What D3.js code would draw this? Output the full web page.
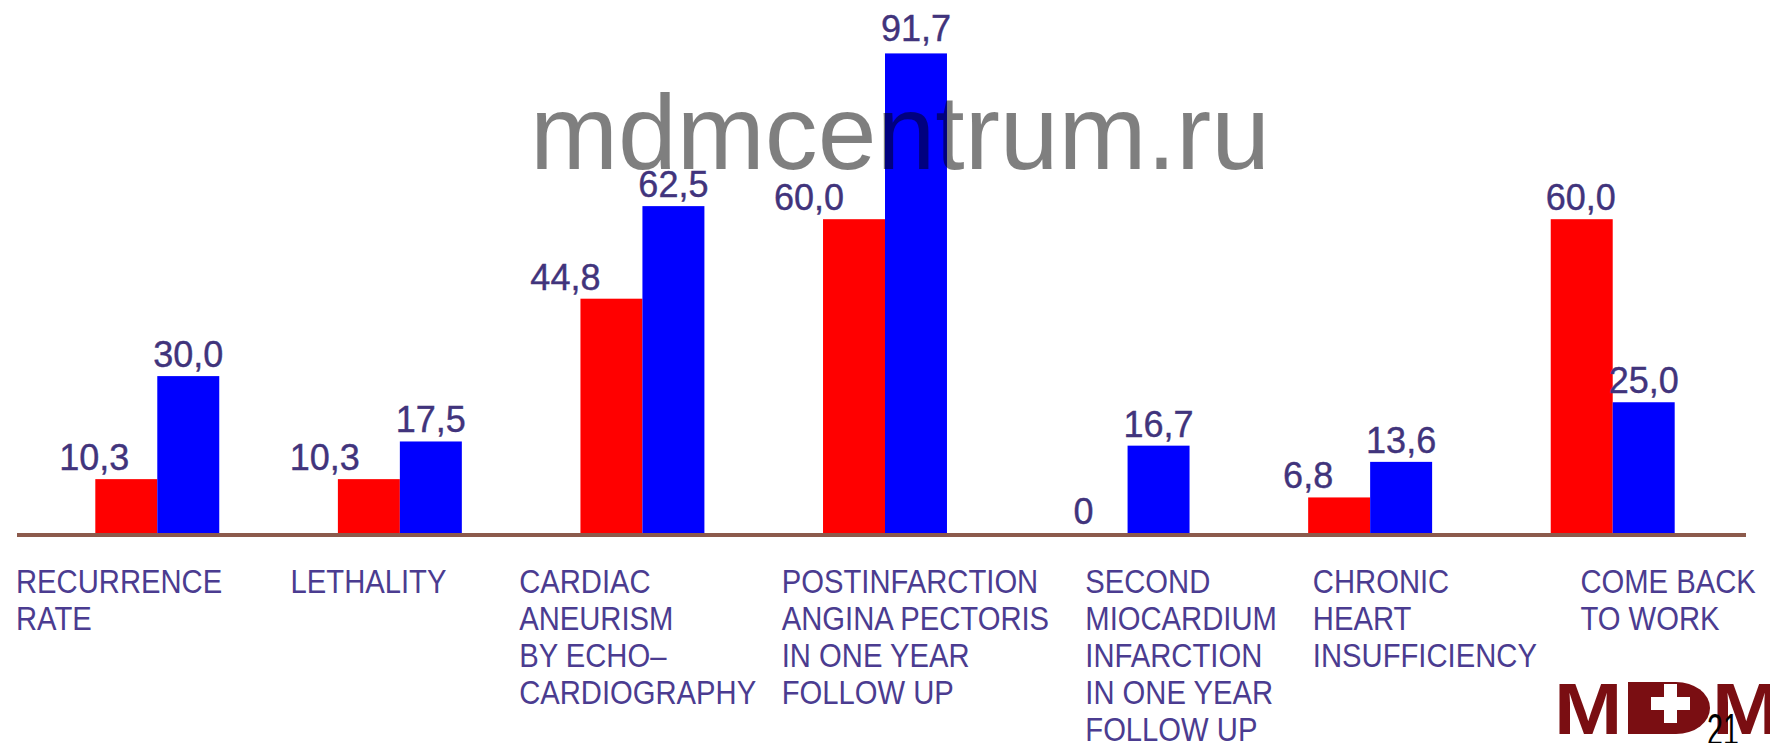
<!DOCTYPE html>
<html>
<head>
<meta charset="utf-8">
<script src="https://cdn.jsdelivr.net/npm/d3@7"></script>
<style>
  html, body { margin: 0; padding: 0; background: #fff; overflow: hidden; }
  svg { display: block; }
</style>
</head>
<body>
<div id="chart"></div>
<script>
// chart values
const categories = [
  ['RECURRENCE', 'RATE'],
  ['LETHALITY'],
  ['CARDIAC', 'ANEURISM', 'BY ECHO–', 'CARDIOGRAPHY'],
  ['POSTINFARCTION', 'ANGINA PECTORIS', 'IN ONE YEAR', 'FOLLOW UP'],
  ['SECOND', 'MIOCARDIUM', 'INFARCTION', 'IN ONE YEAR', 'FOLLOW UP'],
  ['CHRONIC', 'HEART', 'INSUFFICIENCY'],
  ['COME BACK', 'TO WORK']
]
const redValues = [10.3, 10.3, 44.8, 60.0, 0, 6.8, 60.0]
const blueValues = [30.0, 17.5, 62.5, 91.7, 16.7, 13.6, 25.0]
const series = ['red', 'blue']

// layout tweaks (label placement as on the slide)
const redLabelDx = [3, -9, -11, -10, -3, -6, 34]
const catLabelDx = [-20, 12, -2, 18, 79, 64, 89]

const drawChart = () => {
  var width = 1770, height = 743
  var baseY = 533

  var svg = d3.select('#chart').
    append('svg').
    attr('width', width).
    attr('height', height)

  var x = d3.scaleBand().
    domain(d3.range(categories.length)).
    range([36, 1734]).
    paddingInner(0.489).
    paddingOuter(0.2445)

  var xSub = d3.scaleBand().
    domain(series).
    range([0, x.bandwidth()])

  var y = d3.scaleLinear().
    domain([0, 100]).
    range([baseY, 10])

  var color = d3.scaleOrdinal().domain(series).range(['#ff0000', '#0000ff'])

  var fmt = d3.formatLocale({ decimal: ',', thousands: ' ', grouping: [3], currency: ['', ''] }).format('.1f')
  var label = v => v === 0 ? '0' : fmt(v)

  var rows = categories.map((c, i) => ({ i: i, red: redValues[i], blue: blueValues[i] }))

  var group = svg.selectAll('g.grp').
    data(rows).
    enter().
    append('g').
    attr('class', 'grp').
    attr('transform', d => 'translate(' + x(d.i) + ',0)')

  group.selectAll('rect').
    data(d => series.map(s => ({ s: s, v: d[s] }))).
    enter().
    append('rect').
    attr('x', d => xSub(d.s)).
    attr('width', xSub.bandwidth()).
    attr('y', d => y(d.v)).
    attr('height', d => baseY - y(d.v)).
    attr('fill', d => color(d.s))

  // baseline
  svg.append('line').
    attr('x1', 17).attr('x2', 1746).
    attr('y1', baseY + 2).attr('y2', baseY + 2).
    attr('stroke', '#8c5a4c').
    attr('stroke-width', 4)

  // value labels
  group.append('text').
    attr('x', d => xSub('red') + xSub.bandwidth() / 2 + redLabelDx[d.i]).
    attr('y', d => y(d.red) - 9).
    attr('text-anchor', 'end').
    text(d => label(d.red))

  group.append('text').
    attr('x', xSub('blue') + xSub.bandwidth() / 2).
    attr('y', d => y(d.blue) - (d.i === 3 ? 12 : 9)).
    attr('text-anchor', 'middle').
    text(d => label(d.blue))

  group.selectAll('text').
    attr('font-family', 'Liberation Sans, Arial, sans-serif').
    attr('font-size', 36).
    attr('fill', '#41347c').
    attr('stroke', '#41347c').
    attr('stroke-width', 0.4)

  // category labels, narrow lettering
  var cat = svg.selectAll('g.cat').
    data(rows).
    enter().
    append('g').
    attr('class', 'cat').
    attr('transform', d => 'translate(' + (x(d.i) - x.step() * x.paddingInner() / 2 + catLabelDx[d.i]) + ',0)')

  cat.selectAll('text').
    data(d => categories[d.i]).
    enter().
    append('text').
    attr('transform', (d, k) => 'translate(0,' + (593 + k * 37) + ') scale(0.86,1)').
    attr('font-family', 'Liberation Sans, Arial, sans-serif').
    attr('font-size', 34).
    attr('fill', '#4b3c90').
    text(d => d)

  // logo: M, D with a cross, M
  var logo = svg.append('g').
    attr('font-family', 'Liberation Sans, Arial, sans-serif').
    attr('font-weight', 'bold').
    attr('font-size', 72).
    attr('fill', '#7a0e12')
  logo.append('text').attr('transform', 'translate(1554,734) scale(1.14,1)').text('M')
  logo.append('path').
    attr('d', 'M1628,682 H1676 A34,26 0 0 1 1710,708 A34,26 0 0 1 1676,734 H1628 Z')
  logo.append('path').
    attr('fill', '#fff').
    attr('d', 'M1664,684 h13 v13 h13 v13 h-13 v13 h-13 v-13 h-13 v-13 h13 Z')
  logo.append('text').attr('transform', 'translate(1712,734) scale(1.14,1)').text('M')

  // page number
  svg.append('text').
    attr('transform', 'translate(1707,745) scale(0.65,1)').
    attr('font-family', 'Liberation Sans, Arial, sans-serif').
    attr('font-size', 44).
    attr('fill', '#000').
    text('21')

  // watermark
  svg.append('text').
    attr('x', 530).
    attr('y', 169).
    attr('font-family', 'Liberation Sans, Arial, sans-serif').
    attr('font-size', 105).
    attr('textLength', 740).
    attr('lengthAdjust', 'spacingAndGlyphs').
    attr('fill', '#000').
    attr('fill-opacity', 0.5).
    text('mdmcentrum.ru')
}

drawChart()
</script>
</body>
</html>
